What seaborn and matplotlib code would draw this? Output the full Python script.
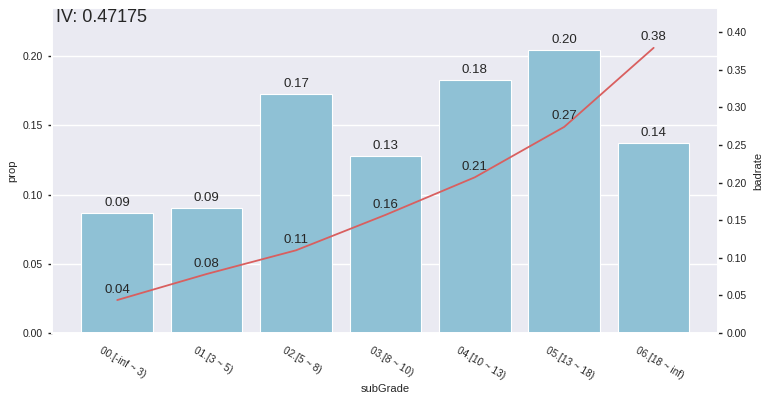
import matplotlib
matplotlib.use("Agg")
import matplotlib.pyplot as plt
import matplotlib.transforms as mtransforms
import seaborn as sns
import pandas as pd
import numpy as np

categories = ["00.[-inf ~ 3)", "01.[3 ~ 5)", "02.[5 ~ 8)", "03.[8 ~ 10)",
              "04.[10 ~ 13)", "05.[13 ~ 18)", "06.[18 ~ inf)"]
prop = [0.0866, 0.0903, 0.1726, 0.1278, 0.1827, 0.2043, 0.1372]
badrate = [0.0439, 0.0785, 0.110, 0.157, 0.207, 0.274, 0.379]
iv_text = "IV: 0.47175"

sns.set_theme(style="darkgrid")
plt.rcParams['font.family'] = ['Liberation Sans', 'DejaVu Sans']
plt.rcParams.update({
    'xtick.labelsize': 7.2, 'ytick.labelsize': 7.5,
    'ytick.left': True, 'ytick.right': True,
    'ytick.major.size': 3, 'ytick.major.width': 1, 'ytick.color': '#222222',
})

df = pd.DataFrame({"subGrade": categories, "prop": prop, "badrate": badrate})
df["pos"] = np.arange(len(df))

fig = plt.figure(figsize=(7.7, 3.97), dpi=100)
ax = fig.add_axes([0.0675, 0.161, 0.865, 0.819])
sns.barplot(data=df, x="subGrade", y="prop", color="#8fc1d5", saturation=1,
            width=0.8, ax=ax, edgecolor="white", linewidth=0.8)
ax.set_xlim(-0.73, 6.72)
ax.set_ylim(0, 0.2347)
ax.set_yticks([0, 0.05, 0.10, 0.15, 0.20])
ax.set_yticklabels(["0.00", "0.05", "0.10", "0.15", "0.20"])
ax.tick_params(axis='y', left=True, length=3, color='#222222')
ax.tick_params(axis='x', bottom=False, pad=3)
ax.set_xlabel("subGrade", fontsize=8, labelpad=2)
ax.set_ylabel("prop", fontsize=8)
shift = mtransforms.ScaledTranslation(6 / 100, 0, fig.dpi_scale_trans)
for lbl in ax.get_xticklabels():
    lbl.set_rotation(-30)
    lbl.set_ha("center")
    lbl.set_transform(lbl.get_transform() + shift)
for i, v in enumerate(prop):
    ax.annotate(f"{v:.2f}", (i, v), xytext=(0, 7), textcoords="offset points",
                ha="center", va="center", fontsize=9.5, color="#262626")

ax2 = ax.twinx()
sns.lineplot(data=df, x="pos", y="badrate", color="#d95f5f", lw=1.3, ax=ax2)
ax2.set_ylim(0, 0.432)
ax2.set_yticks(np.arange(0, 0.41, 0.05))
ax2.set_yticklabels([f"{t:.2f}" for t in np.arange(0, 0.41, 0.05)])
ax2.grid(False)
ax2.tick_params(axis='y', right=True, length=3, color='#222222')
ax2.set_ylabel("badrate", fontsize=8)
ax2.set_xlim(-0.73, 6.72)
for i, v in enumerate(badrate):
    ax2.annotate(f"{v:.2f}", (i, v), xytext=(0, 7.5), textcoords="offset points",
                 ha="center", va="center", fontsize=9.5, color="#262626")

ax.text(0.006, 0.997, iv_text, transform=ax.transAxes, ha="left", va="top",
        fontsize=13, color="#262626")

fig.savefig("out.png", dpi=100)
